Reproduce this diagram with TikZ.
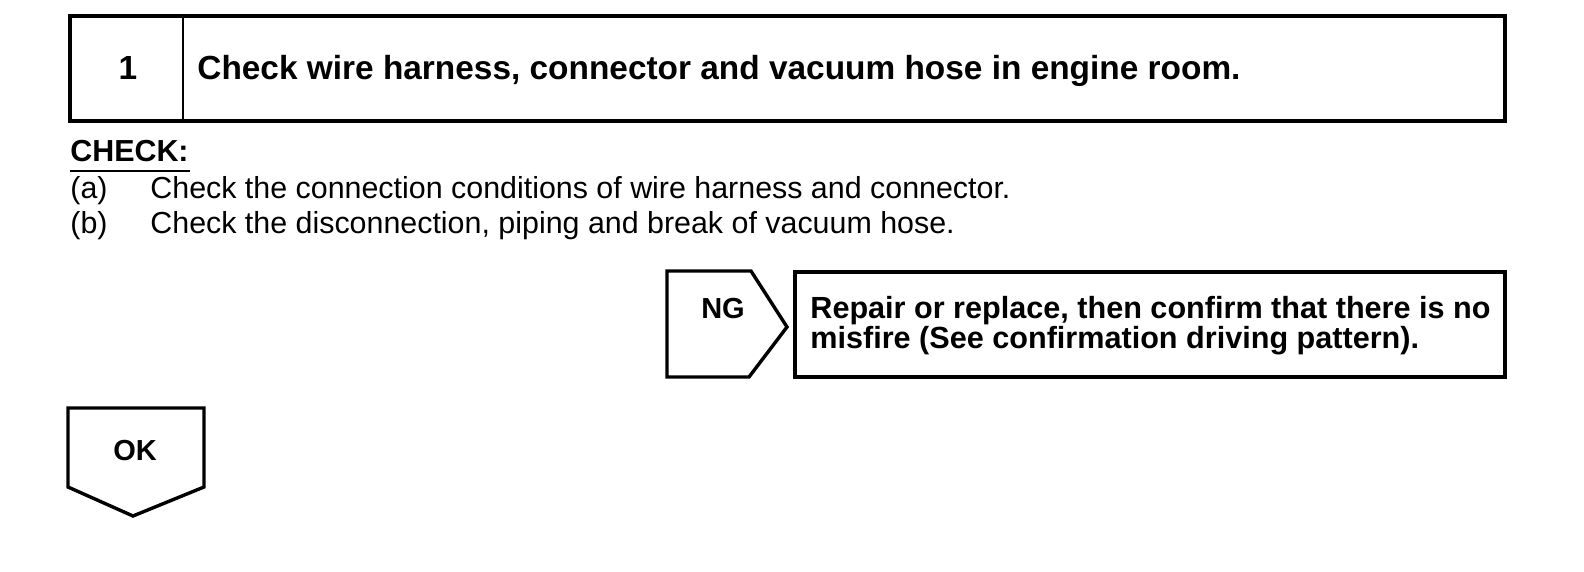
\documentclass[tikz,border=0pt]{standalone}
\usepackage{fontspec}
\setmainfont{Liberation Sans}
\usepackage{tikz}
\usetikzlibrary{positioning}

\begin{document}
\begin{tikzpicture}[
  x=0.5pt, y=-0.5pt,
  frame/.style={draw, line width=1.7pt, line join=miter},
  headtext/.style={anchor=base west, inner sep=0pt, font=\fontsize{16.7}{20}\selectfont\bfseries},
  bodytext/.style={anchor=base west, inner sep=0pt, font=\fontsize{15.2}{18}\selectfont},
  boldtext/.style={anchor=base west, inner sep=0pt, font=\fontsize{15.3}{18}\selectfont\bfseries},
  tagtext/.style={anchor=base, inner sep=0pt, font=\fontsize{14.5}{17}\selectfont\bfseries}
]
  \useasboundingbox (0,0) rectangle (1584,572);

  % step header
  \draw[frame, line width=2pt] (70,16) rectangle (1505,121);
  \draw[line width=1pt] (183,16) -- (183,121);
  \node[anchor=base, inner sep=0pt, font=\fontsize{16.7}{20}\selectfont\bfseries] (stepno) at (128,80) {1};
  \node[headtext] (steptitle) at (197,80) {Check wire harness, connector and vacuum hose in engine room.};

  % check list
  \node[boldtext, font=\fontsize{15.2}{18}\selectfont\bfseries] (check) at (70,162) {CHECK:};
  \draw[line width=1pt] (70,171) -- (190,171);
  \node[bodytext] (itema) at (70,199) {(a)};
  \node[bodytext] (texta) at (150,199) {Check the connection conditions of wire harness and connector.};
  \node[bodytext] (itemb) at (70,234) {(b)};
  \node[bodytext] (textb) at (150,234) {Check the disconnection, piping and break of vacuum hose.};

  % NG branch
  \draw[frame] (667,271) -- (751,271) -- (787,327) -- (749,377) -- (667,377) -- cycle;
  \node[tagtext] (ng) at (723,318) {NG};
  \draw[frame] (795,272) rectangle (1505,377);
  \node[boldtext] (repaira) at (810,318) {Repair or replace, then confirm that there is no};
  \node[boldtext] (repairb) at (810,348) {misfire (See confirmation driving pattern).};

  % OK branch
  \draw[frame] (68,408) -- (204,408) -- (204,487) -- (133,516) -- (68,487) -- cycle;
  \node[tagtext] (ok) at (135,460) {OK};
\end{tikzpicture}
\end{document}
